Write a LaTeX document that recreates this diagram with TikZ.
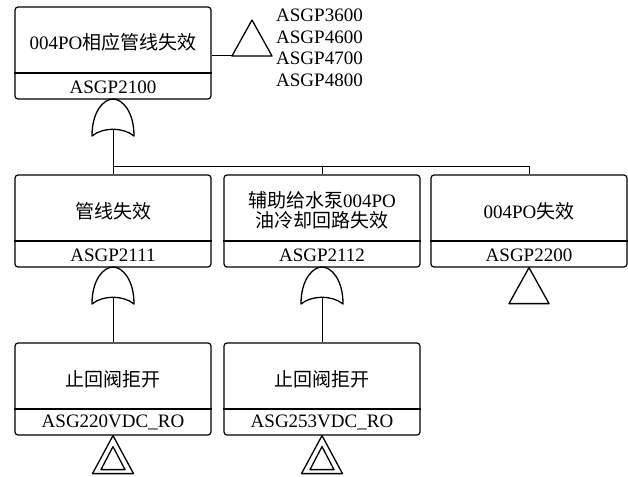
\documentclass[tikz,border=0pt]{standalone}
\usepackage{fontspec}
\setmainfont{Liberation Serif}
\newfontfamily\cjk{Noto Sans CJK SC}
\begin{document}
\begin{tikzpicture}[x=1pt,y=-1pt,
  fbox/.style={draw, line width=1.2pt, rounded corners=3pt, minimum width=196pt, minimum height=92pt, inner sep=0pt},
  lbl/.style={inner sep=0pt, align=center, font=\fontsize{19}{20}\selectfont},
  rlbl/.style={inner sep=0pt, anchor=base west, font=\fontsize{19}{20}\selectfont},
  conn/.style={line width=1pt},
  gateline/.style={line width=1.3pt, line join=round},
  orgate/.pic={
    \draw[gateline] (-21,37) .. controls (-21,12) and (-9,0) .. (0,0)
      .. controls (9,0) and (21,12) .. (21,37)
      .. controls (10,28) and (-10,28) .. (-21,37) -- cycle;
    \coordinate (-in) at (0,30);
  },
  xfer/.pic={
    \draw[gateline] (0,0) -- (20,36) -- (-20,36) -- cycle;
    \coordinate (-left) at (-20,36);
  },
  dxfer/.pic={
    \draw[gateline] (0,0) -- (20.5,38) -- (-20.5,38) -- cycle;
    \draw[gateline] (0,11) -- (12,34) -- (-12,34) -- cycle;
  }
]
\useasboundingbox (0,0) rectangle (628,476);

% top box
\node[fbox] (top) at (113,53) {};
\draw[line width=1.2pt] (top.west |- 0,73) -- (top.east |- 0,73);
\node[lbl] (topt) at (113,42) {004PO{\cjk 相应管线失效}};
\node[lbl] (topc) at (113,87) {ASGP2100};

% transfer triangle at top right
\pic (t0) at (252,20) {xfer};
\draw[conn] ([yshift=-3pt]top.east) -- (t0-left);
\node[rlbl] (r1) at (276,21.5) {ASGP3600};
\node[rlbl] (r2) at (276,43.2) {ASGP4600};
\node[rlbl] (r3) at (276,64.9) {ASGP4700};
\node[rlbl] (r4) at (276,86.6) {ASGP4800};

% top OR gate
\pic (g0) at (113,99) {orgate};

% row 2
\node[fbox] (A) at (113,221) {};
\draw[line width=1.2pt] (A.west |- 0,241) -- (A.east |- 0,241);
\node[lbl] (At) at (113,211) {\cjk 管线失效};
\node[lbl] (Ac) at (113,255) {ASGP2111};

\node[fbox] (B) at (322,221) {};
\draw[line width=1.2pt] (B.west |- 0,241) -- (B.east |- 0,241);
\node[lbl] (Bt) at (322,210) {{\cjk 辅助给水泵}004PO\\{\cjk 油冷却回路失效}};
\node[lbl] (Bc) at (322,255) {ASGP2112};

\node[fbox] (C) at (529,221) {};
\draw[line width=1.2pt] (C.west |- 0,241) -- (C.east |- 0,241);
\node[lbl] (Ct) at (529,211) {004PO{\cjk 失效}};
\node[lbl] (Cc) at (529,255) {ASGP2200};

% bus
\coordinate (j) at (113,166);
\draw[conn] (g0-in) -- (j);
\draw[conn] (A.north) -- (j) -- (C.north |- j) -- (C.north);
\draw[conn] (B.north) -- (B.north |- j);

% row 2 gates
\pic (gA) at (113,267) {orgate};
\pic (gB) at (322,267) {orgate};
\pic (tC) at (C.south) {xfer};

% row 3
\node[fbox] (D) at (113,389) {};
\draw[line width=1.2pt] (D.west |- 0,409) -- (D.east |- 0,409);
\node[lbl] (Dt) at (113,379) {\cjk 止回阀拒开};
\node[lbl] (Dc) at (113,422) {ASG220VDC\_RO};

\node[fbox] (E) at (322,389) {};
\draw[line width=1.2pt] (E.west |- 0,409) -- (E.east |- 0,409);
\node[lbl] (Et) at (322,379) {\cjk 止回阀拒开};
\node[lbl] (Ec) at (322,422) {ASG253VDC\_RO};

\draw[conn] (gA-in) -- (D.north);
\draw[conn] (gB-in) -- (E.north);

\pic (dD) at (D.south) {dxfer};
\pic (dE) at (E.south) {dxfer};
\end{tikzpicture}
\end{document}
